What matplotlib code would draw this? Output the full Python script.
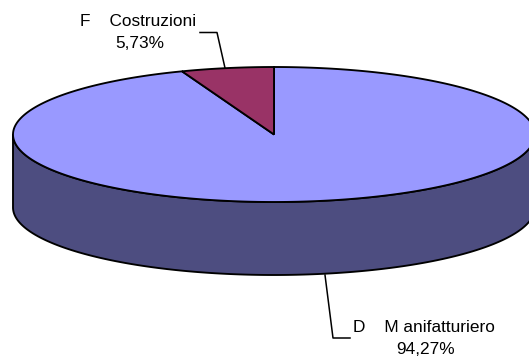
import numpy as np
import matplotlib
matplotlib.use("Agg")
import matplotlib.pyplot as plt
from matplotlib.patches import Polygon

categories = ["F    Costruzioni", "D    M anifatturiero"]
values = [5.73, 94.27]
labels = ["5,73%", "94,27%"]
colors = ["#993366", "#9999FF"]
side_color = "#4D4D80"

W, H = 529, 358
CX, CY, RX, RY, DEPTH = 274, 134.5, 261, 67.5, 73

plt.rcParams["font.family"] = ["Liberation Sans", "DejaVu Sans"]
fig = plt.figure(figsize=(W / 100, H / 100), dpi=100, facecolor="white")
ax = fig.add_axes([0, 0, 1, 1])
ax.set_xlim(0, W)
ax.set_ylim(H, 0)
ax.axis("off")
ax.set_autoscale_on(False)


def rim(t):
    t = np.radians(t)
    return CX + RX * np.sin(t), CY - RY * np.cos(t)


angles = np.cumsum([0] + values) * 3.6
start_f, end_f = -angles[1], 0
LW = 1.35
# Side wall
t = np.linspace(90, 270, 200)
x, y = rim(t)
ax.add_patch(Polygon(np.r_[np.c_[x, y], np.c_[x[::-1], y[::-1] + DEPTH]], closed=True,
                     fc=side_color, ec="black", lw=LW, clip_on=False, zorder=1))
# Main slice (large)
t = np.linspace(0, 360 - angles[1], 400)
x, y = rim(t)
ax.add_patch(Polygon(np.r_[[[CX, CY]], np.c_[x, y]], closed=True, fc=colors[1], ec="black",
                     lw=LW, clip_on=False, zorder=2))
# Small slice
t = np.linspace(start_f, end_f, 40)
x, y = rim(t)
ax.add_patch(Polygon(np.r_[[[CX, CY]], np.c_[x, y]], closed=True, fc=colors[0], ec="black",
                     lw=LW, clip_on=False, zorder=3))

# Leader lines
ax.plot([200, 217, 225], [32.5, 32.5, 68], color="black", lw=1.1, zorder=4)
ax.plot([325, 333, 350], [275, 338, 338], color="black", lw=1.1, zorder=4)

FS = 12.4
ax.text(138.5, 21, categories[0], ha="center", va="center", fontsize=FS, color="black")
ax.text(139.5, 44, labels[0], ha="center", va="center", fontsize=FS, color="black")
ax.text(423.5, 327, categories[1], ha="center", va="center", fontsize=FS, color="black")
ax.text(426, 350, labels[1], ha="center", va="center", fontsize=FS, color="black")

fig.savefig("out.png", dpi=100, facecolor="white")
